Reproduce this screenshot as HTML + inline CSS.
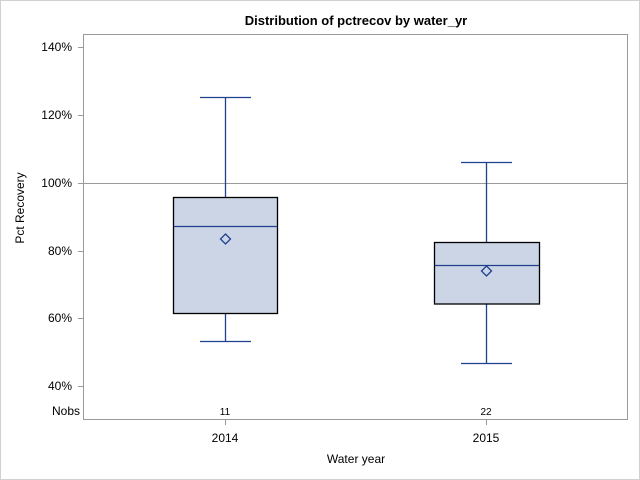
<!DOCTYPE html>
<html><head><style>
body{margin:0;background:#fff;}
svg{display:block;}
text{font-family:"Liberation Sans",Arial,sans-serif;fill:#000;}
</style></head><body>
<svg width="640" height="480" viewBox="0 0 640 480">
<rect x="0.5" y="0.5" width="639" height="479" fill="#fff" stroke="#d0d0d0"/>
<text x="356" y="25" font-size="13" font-weight="bold" text-anchor="middle">Distribution of pctrecov by water_yr</text>
<rect x="83.5" y="34.5" width="544" height="385" fill="none" stroke="#9a9a9a"/>
<line x1="84" y1="183.5" x2="627" y2="183.5" stroke="#9a9a9a"/>
<g stroke="#9a9a9a">
<line x1="78" y1="47.5" x2="83" y2="47.5"/><line x1="78" y1="115.5" x2="83" y2="115.5"/>
<line x1="78" y1="183.5" x2="83" y2="183.5"/><line x1="78" y1="251.5" x2="83" y2="251.5"/>
<line x1="78" y1="318.5" x2="83" y2="318.5"/><line x1="78" y1="386.5" x2="83" y2="386.5"/>
<line x1="225.5" y1="420" x2="225.5" y2="425"/><line x1="486.5" y1="420" x2="486.5" y2="425"/>
</g>
<g font-size="12" text-anchor="end">
<text x="72" y="51">140%</text><text x="72" y="119">120%</text><text x="72" y="187">100%</text>
<text x="72" y="255">80%</text><text x="72" y="322">60%</text><text x="72" y="390">40%</text>
<text x="80" y="415">Nobs</text>
</g>
<text x="24" y="208" font-size="12" text-anchor="middle" transform="rotate(-90 24 208)">Pct Recovery</text>
<g font-size="10" text-anchor="middle"><text x="225" y="415">11</text><text x="486" y="415">22</text></g>
<g font-size="12" text-anchor="middle"><text x="225" y="442">2014</text><text x="486" y="442">2015</text>
<text x="356" y="463">Water year</text></g>
<g stroke="#1f3f8f" stroke-width="1.3" fill="none">
<line x1="225.5" y1="97.5" x2="225.5" y2="197.5"/><line x1="200" y1="97.5" x2="251" y2="97.5"/>
<line x1="225.5" y1="313.5" x2="225.5" y2="341.5"/><line x1="200" y1="341.5" x2="251" y2="341.5"/>
<line x1="486.5" y1="162.5" x2="486.5" y2="242.5"/><line x1="461" y1="162.5" x2="512" y2="162.5"/>
<line x1="486.5" y1="304" x2="486.5" y2="363.5"/><line x1="461" y1="363.5" x2="512" y2="363.5"/>
</g>
<rect x="173.5" y="197.5" width="104" height="116" fill="#cbd5e5" stroke="#000" stroke-width="1.3"/>
<rect x="434.5" y="242.5" width="105" height="61.5" fill="#cbd5e5" stroke="#000" stroke-width="1.3"/>
<g stroke="#1f3f8f" stroke-width="1.3" fill="none">
<line x1="174" y1="226.5" x2="277" y2="226.5"/><line x1="435" y1="265.5" x2="539" y2="265.5"/>
<path d="M225.5 234 L230.5 239 L225.5 244 L220.5 239 Z"/>
<path d="M486.5 266 L491.5 271 L486.5 276 L481.5 271 Z"/>
</g>
</svg>
</body></html>
